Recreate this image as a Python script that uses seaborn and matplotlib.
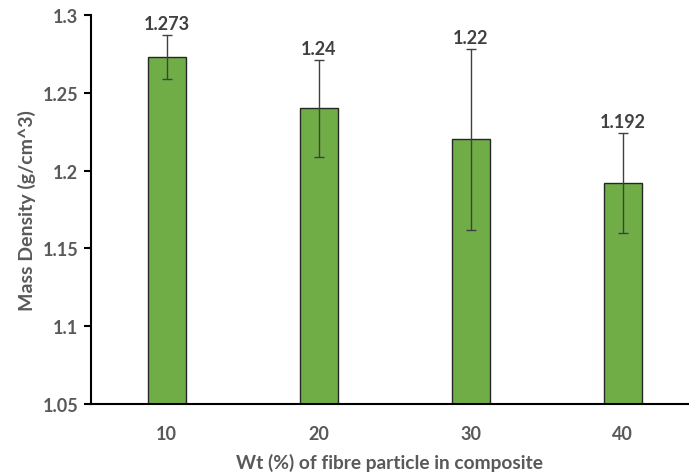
import matplotlib
matplotlib.use("Agg")
import matplotlib.pyplot as plt
import seaborn as sns
import pandas as pd

categories = ["10", "20", "30", "40"]
density = [1.273, 1.24, 1.22, 1.192]
errors = [0.014, 0.031, 0.058, 0.032]
labels = ["1.273", "1.24", "1.22", "1.192"]
yticks = [1.05, 1.1, 1.15, 1.2, 1.25, 1.3]
ytick_labels = ["1.05", "1.1", "1.15", "1.2", "1.25", "1.3"]

sns.set_theme(style="white")
plt.rcParams["font.family"] = ["Lato", "DejaVu Sans"]

grey = "#595959"
df = pd.DataFrame({"wt": categories, "density": density})

fig = plt.figure(figsize=(6.89, 4.77), dpi=100)
ax = fig.add_axes([90.8 / 689, 72 / 477, (689 - 90.8) / 689, (405 - 16) / 477])

sns.barplot(data=df, x="wt", y="density", color="#70AD47", saturation=1,
            width=0.25, edgecolor="#262626", linewidth=1.0, ax=ax, errorbar=None)

xs = range(len(categories))
ax.errorbar(list(xs), density, yerr=errors, fmt="none", ecolor="#404040",
            elinewidth=1.0, capsize=3.6, capthick=1.0, zorder=5)

for i, (v, e, t) in enumerate(zip(density, errors, labels)):
    ax.annotate(t, (i, v + e), xytext=(0, 2), textcoords="offset points",
                ha="center", va="bottom", fontsize=13, fontweight="bold", color="#404040")

ax.set_ylim(1.05, 1.3)
ax.set_xlim(-0.5, 3.435)
ax.set_yticks(yticks)
ax.set_yticklabels(ytick_labels)
ax.tick_params(axis="y", which="major", direction="out", length=5, width=1.5,
               color="black", left=True, labelsize=13, labelcolor=grey, pad=4)
ax.tick_params(axis="x", length=0, labelsize=13, labelcolor=grey, pad=15)
for lab in ax.get_xticklabels() + ax.get_yticklabels():
    lab.set_fontweight("bold")

for s in ["top", "right"]:
    ax.spines[s].set_visible(False)
for s in ["left", "bottom"]:
    ax.spines[s].set_color("black")
    ax.spines[s].set_linewidth(1.5)

ax.set_xlabel("Wt (%) of fibre particle in composite", fontsize=13.8,
              fontweight="bold", color=grey, labelpad=8)
ax.set_ylabel("Mass Density (g/cm^3)", fontsize=14, fontweight="bold",
              color=grey, labelpad=5)

fig.savefig("out.png", dpi=100, facecolor="white")
